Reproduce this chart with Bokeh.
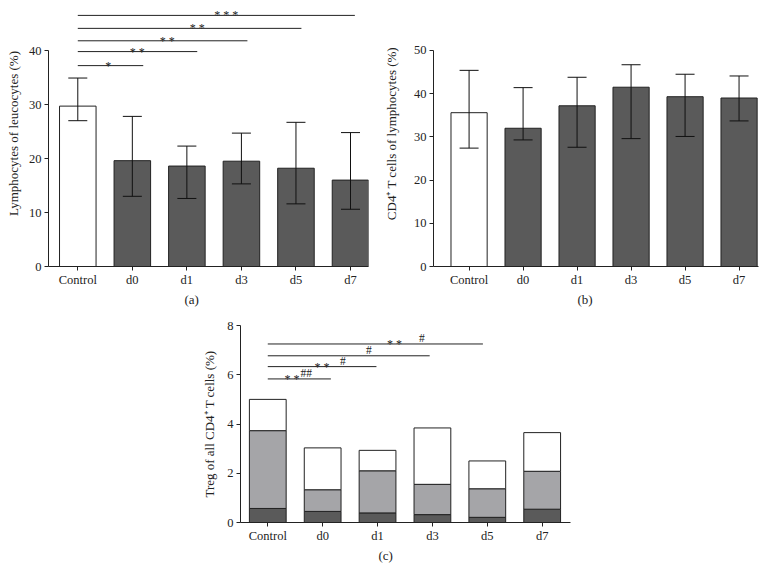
from bokeh.plotting import figure
from bokeh.layouts import column, row
from bokeh.models import (ColumnDataSource, Whisker, TeeHead, FixedTicker,
                          Title, Range1d, Spacer)
from bokeh.embed import file_html
from bokeh.resources import INLINE
from bokeh.core.properties import value

# ---------------- data ----------------
categories = ["Control", "d0", "d1", "d3", "d5", "d7"]

# (a) Lymphocytes of leucocytes (%)
lymph_mean = [29.7, 19.6, 18.6, 19.5, 18.2, 16.0]
lymph_lower = [27.0, 13.0, 12.6, 15.3, 11.6, 10.6]
lymph_upper = [34.9, 27.8, 22.3, 24.7, 26.7, 24.8]

# (b) CD4+ T cells of lymphocytes (%)
cd4_mean = [35.6, 32.0, 37.2, 41.5, 39.3, 39.0]
cd4_lower = [27.4, 29.3, 27.6, 29.6, 30.1, 33.7]
cd4_upper = [45.4, 41.4, 43.8, 46.7, 44.5, 44.1]

# (c) Treg of all CD4+ T cells (%), stacked segments
treg_dark = [0.57, 0.45, 0.39, 0.32, 0.21, 0.54]
treg_gray = [3.16, 0.88, 1.71, 1.23, 1.16, 1.54]
treg_white = [1.27, 1.70, 0.83, 2.29, 1.13, 1.57]

# significance brackets (a): from Control (index 0) to end index
sigA_start = [0, 0, 0, 0, 0]
sigA_end = [1.2, 2.19, 3.11, 4.1, 5.08]
sigA_level = [37.2, 39.8, 41.8, 44.1, 46.5]
sigA_label = ["*", "* *", "* *", "* *", "* * *"]
sigA_label_x = [0.56, 1.09, 1.64, 2.19, 2.72]

# significance brackets (c)
sigC_start = [0, 0, 0, 0]
sigC_end = [1.15, 1.98, 2.95, 3.92]
sigC_level = [5.83, 6.33, 6.77, 7.25]
sigC_star_x = [0.44, 0.99, 2.31]
sigC_star_level = [5.83, 6.33, 7.25]
sigC_star_label = ["* *", "* *", "* *"]
sigC_hash_x = [0.70, 1.37, 1.84, 2.81]
sigC_hash_level = [5.83, 6.33, 6.77, 7.25]
sigC_hash_label = ["##", "#", "#", "#"]

# ---------------- style ----------------
SERIF = "Liberation Serif"
DARK = "#5a5a5a"
GRAY = "#a5a5a8"
LINE = "#222222"
xs = list(range(len(categories)))
BAR_W = 0.67


def base_fig(width, height, xr, yr, bl, br, bt, bb, ylabel, yticks, ybounds,
             panel_label, label_offset, ylabel_standoff):
    p = figure(width=width, height=height, x_range=Range1d(*xr),
               y_range=Range1d(*yr), output_backend="svg",
               toolbar_location=None, min_border_left=bl,
               min_border_right=br, min_border_top=bt, min_border_bottom=bb)
    p.outline_line_color = None
    p.xgrid.visible = False
    p.ygrid.visible = False
    p.background_fill_color = "white"
    p.border_fill_color = "white"
    for ax in (p.xaxis[0], p.yaxis[0]):
        ax.axis_line_color = LINE
        ax.axis_line_width = 1
        ax.major_tick_line_color = LINE
        ax.major_tick_out = 4
        ax.major_tick_in = 0
        ax.minor_tick_line_color = None
        ax.major_label_text_font = SERIF
        ax.major_label_text_font_size = "12.5px"
        ax.major_label_text_color = "#222222"
    p.xaxis.ticker = FixedTicker(ticks=xs)
    p.xaxis.major_label_overrides = {i: c for i, c in zip(xs, categories)}
    p.xaxis.major_label_standoff = 2
    p.yaxis.ticker = FixedTicker(ticks=yticks)
    p.yaxis.bounds = ybounds
    p.yaxis.major_label_standoff = 3
    p.yaxis.axis_label = ylabel
    p.yaxis.axis_label_text_font = SERIF
    p.yaxis.axis_label_text_font_size = "13px"
    p.yaxis.axis_label_text_font_style = "normal"
    p.yaxis.axis_label_text_color = "#222222"
    p.yaxis.axis_label_standoff = ylabel_standoff
    t = Title(text=panel_label, align="left", offset=label_offset,
              text_font=SERIF, text_font_size="13px",
              text_font_style="normal", text_color="#222222", standoff=0)
    p.add_layout(t, "below")
    return p


def bars_with_errors(p, mean, lower, upper):
    fills = ["white"] + [DARK] * (len(categories) - 1)
    src = ColumnDataSource(dict(x=xs, top=mean, lower=lower, upper=upper,
                                fill=fills))
    p.vbar(x="x", top="top", width=BAR_W, bottom=0, fill_color="fill",
           line_color=LINE, line_width=1, source=src)
    w = Whisker(base="x", upper="upper", lower="lower", source=src,
                line_color="#111111", line_width=1, level="overlay",
                upper_head=TeeHead(size=19, line_color="#111111", line_width=1),
                lower_head=TeeHead(size=19, line_color="#111111", line_width=1))
    p.add_layout(w)


# ---------------- (a) ----------------
pa = base_fig(380, 308, (-0.537, 5.33), (0, 49.26), 48, 12, 0, 42,
              "Lymphocytes of leucocytes (%)", [0, 10, 20, 30, 40], (0, 40),
              "(a)", 136, 5)
bars_with_errors(pa, lymph_mean, lymph_lower, lymph_upper)
pa.segment(x0=sigA_start, y0=sigA_level, x1=sigA_end, y1=sigA_level,
           line_color=LINE, line_width=1)
pa.text(x=sigA_label_x, y=sigA_level, text=sigA_label,
        text_font=value(SERIF), text_font_size="12px", text_align="center",
        text_baseline="alphabetic", text_color="#222222")

# ---------------- (b) ----------------
pb = base_fig(394, 308, (-0.659, 5.36), (0, 61.57), 49, 16, 0, 42,
              "CD4\u207a T cells of lymphocytes (%)", [0, 10, 20, 30, 40, 50],
              (0, 50), "(b)", 144, 12)
bars_with_errors(pb, cd4_mean, cd4_lower, cd4_upper)

# ---------------- (c) ----------------
pc = base_fig(380, 268, (-0.497, 5.516), (0, 8), 45, 5, 17, 54,
              "Treg of all CD4\u207a T cells (%)", [0, 2, 4, 6, 8], (0, 8),
              "(c)", 138, 7)
srcc = ColumnDataSource(dict(x=xs, dark=treg_dark, gray=treg_gray,
                             white=treg_white))
pc.vbar_stack(["dark", "gray", "white"], x="x", width=BAR_W,
              fill_color=[DARK, GRAY, "white"], line_color=LINE,
              line_width=1, source=srcc)
pc.segment(x0=sigC_start, y0=sigC_level, x1=sigC_end, y1=sigC_level,
           line_color=LINE, line_width=1)
pc.text(x=sigC_star_x, y=sigC_star_level, text=sigC_star_label,
        text_font=value(SERIF), text_font_size="12px", text_align="center",
        text_baseline="alphabetic", text_color="#222222")
pc.text(x=sigC_hash_x, y=sigC_hash_level, text=sigC_hash_label,
        text_font=value(SERIF), text_font_size="11.5px", text_align="center",
        text_baseline="bottom", text_color="#222222")

layout = column(row(pa, pb, spacing=0),
                row(Spacer(width=195, height=268), pc, spacing=0),
                spacing=0)

open("out.html", "w").write(file_html(layout, INLINE))
